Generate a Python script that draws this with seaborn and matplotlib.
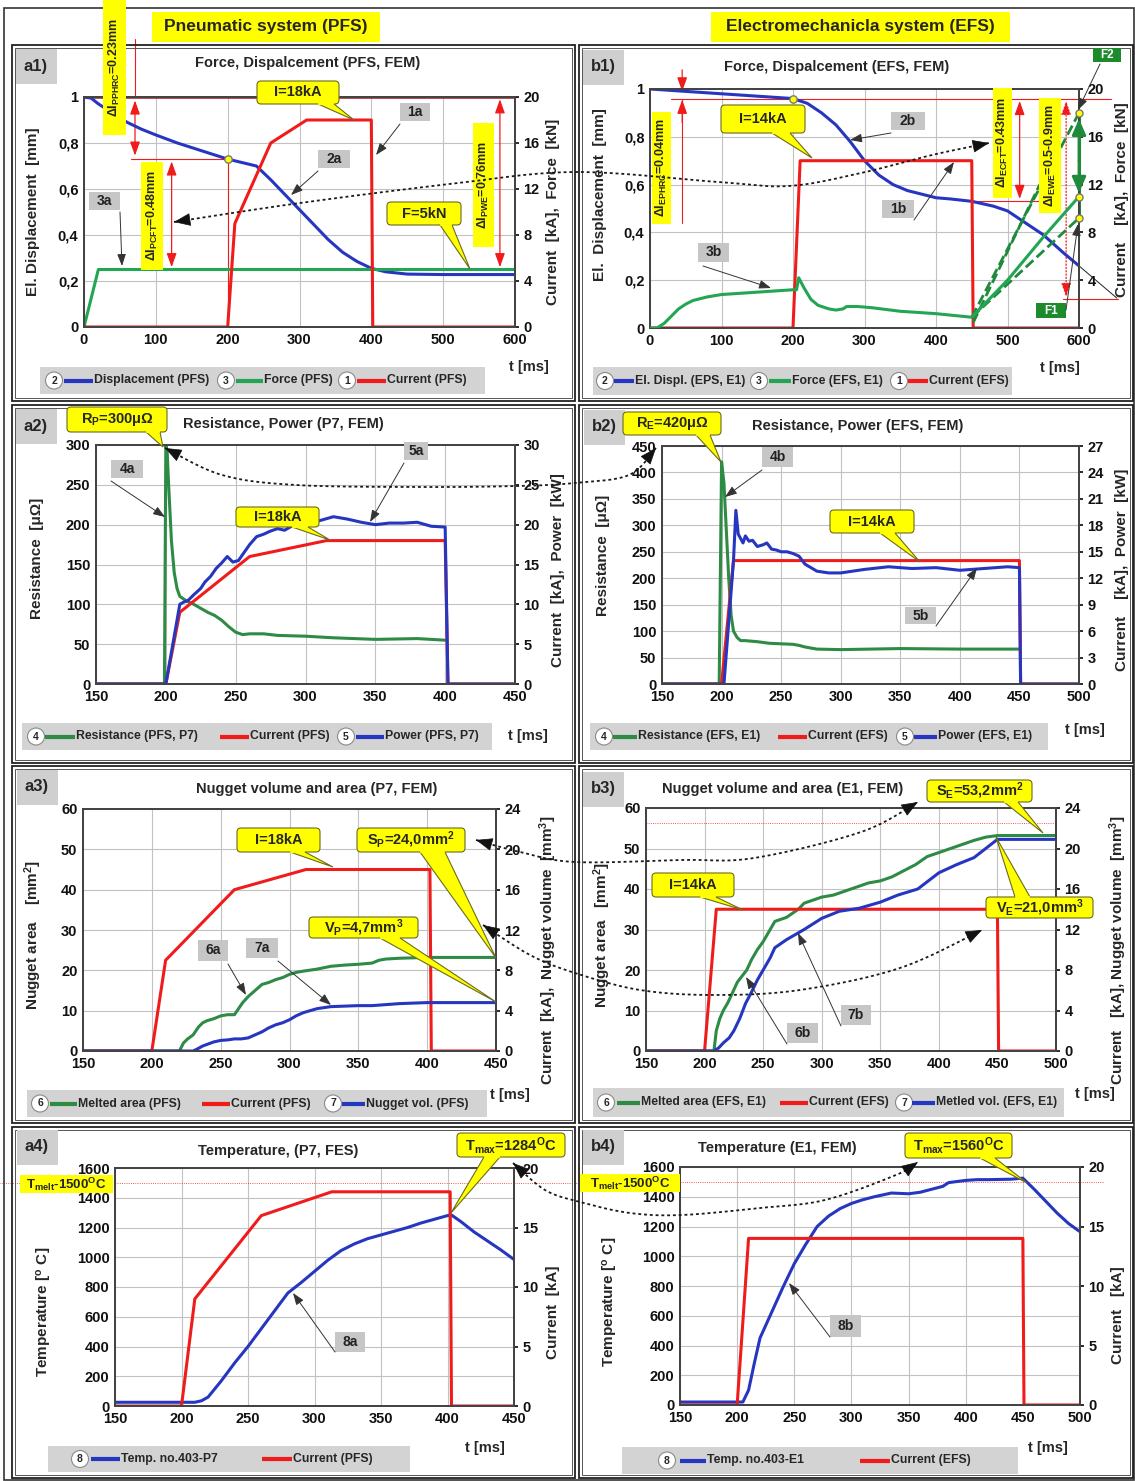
import numpy as np
import matplotlib.pyplot as plt
import matplotlib.patches as mpatches
import seaborn as sns

W, H = 1135, 1481

# ---------------- data ----------------
# a1) PFS force / displacement
a1_disp_t = [0, 10, 20, 40, 60, 80, 100, 130, 160, 200, 220, 240, 260, 280, 300, 320, 340, 360, 380, 400, 420, 450, 500, 550, 600]
a1_disp = [1.0, 0.995, 0.97, 0.93, 0.89, 0.86, 0.835, 0.80, 0.77, 0.73, 0.715, 0.70, 0.64, 0.575, 0.51, 0.445, 0.38, 0.325, 0.285, 0.255, 0.24, 0.23, 0.228, 0.228, 0.228]
a1_force_t = [0, 20, 600]
a1_force = [0, 5, 5]
a1_cur_t = [0, 200, 210, 260, 310, 400, 402, 600]
a1_cur = [0, 0, 9, 16, 18, 18, 0, 0]

# b1) EFS force / displacement
b1_disp_t = [0, 50, 100, 150, 200, 220, 240, 260, 280, 300, 320, 340, 360, 380, 400, 420, 450, 480, 500, 520, 550, 580, 600]
b1_disp = [1.0, 0.99, 0.98, 0.97, 0.96, 0.94, 0.90, 0.85, 0.78, 0.70, 0.64, 0.60, 0.575, 0.56, 0.545, 0.54, 0.53, 0.51, 0.49, 0.45, 0.39, 0.31, 0.26]
b1_force_t = [0, 10, 20, 30, 40, 50, 60, 80, 100, 150, 200, 205, 208, 215, 225, 235, 250, 260, 270, 275, 290, 310, 350, 400, 450, 500, 550, 600]
b1_force = [0, 0, 0.4, 1.0, 1.6, 2.0, 2.3, 2.6, 2.8, 3.0, 3.2, 3.2, 4.2, 3.4, 2.4, 1.9, 1.6, 1.5, 1.6, 1.8, 1.8, 1.7, 1.4, 1.2, 0.9, 4.0, 7.6, 11.0]
b1_cur_t = [0, 200, 210, 450, 452, 600]
b1_cur = [0, 0, 14, 14, 0, 0]
b1_f2 = 18.0   # upper force estimate at 600 ms
b1_fw = 11.0   # force at 600 ms
b1_f1 = 9.2    # lower force estimate at 600 ms
b1_fmid = 12.0

# a2) PFS resistance / power
a2_res_t = [150, 199, 200, 201, 202, 204, 206, 208, 210, 215, 220, 225, 230, 235, 240, 245, 250, 255, 260, 270, 280, 300, 320, 350, 380, 400]
a2_res = [0, 0, 300, 290, 250, 180, 140, 120, 110, 104, 100, 95, 90, 86, 80, 72, 65, 62, 63, 63, 61, 60, 58, 56, 57, 55]
a2_cur_t = [150, 200, 210, 260, 315, 400, 402, 450]
a2_cur = [0, 0, 9, 16, 18, 18, 0, 0]
a2_pow_t = [150, 200, 210, 213, 216, 220, 225, 228, 232, 236, 240, 244, 248, 252, 256, 260, 265, 270, 275, 280, 285, 290, 295, 300, 310, 320, 330, 340, 350, 360, 370, 380, 390, 400, 402, 450]
a2_pow = [0, 0, 10, 10.3, 10.5, 11.2, 12, 12.8, 13.5, 14.5, 15.2, 16, 15.3, 15.5, 16.5, 17.5, 18.5, 18.8, 19.2, 19.5, 19.3, 19.8, 20.3, 20, 20.5, 21, 20.7, 20.3, 20, 20.2, 20.2, 20.3, 19.8, 19.7, 0, 0]

# b2) EFS resistance / power
b2_res_t = [150, 198, 200, 202, 204, 206, 208, 210, 213, 216, 220, 230, 240, 250, 260, 265, 270, 280, 300, 350, 400, 450]
b2_res = [0, 0, 420, 380, 290, 200, 130, 100, 88, 82, 82, 80, 77, 76, 75, 73, 70, 66, 65, 67, 66, 66]
b2_cur_t = [150, 200, 210, 450, 451, 500]
b2_cur = [0, 0, 14, 14, 0, 0]
b2_pow_t = [150, 202, 210, 212, 214, 216, 218, 220, 223, 226, 230, 235, 238, 242, 246, 250, 255, 260, 265, 270, 275, 280, 290, 300, 310, 320, 340, 360, 380, 400, 420, 440, 450, 451, 500]
b2_pow = [0, 0, 14, 19.7, 17, 16.5, 16, 16.8, 16.2, 16.3, 15.6, 15.8, 16, 15.3, 15.2, 15, 15, 14.8, 14.5, 13.6, 13.2, 12.8, 12.6, 12.6, 12.8, 13, 13.3, 13.1, 13.2, 12.9, 13.1, 13.3, 13.2, 0, 0]

# a3) PFS nugget area / volume
a3_area_t = [150, 220, 223, 226, 230, 234, 237, 240, 245, 250, 255, 260, 263, 266, 270, 275, 280, 285, 290, 295, 300, 305, 310, 320, 330, 340, 350, 360, 365, 370, 380, 400, 450]
a3_area = [0, 0, 2, 3, 4, 6, 7, 7.5, 8, 8.7, 9, 9, 10.5, 12, 13.5, 15, 16.5, 17, 17.7, 18.2, 19, 19.5, 19.8, 20.3, 21, 21.3, 21.5, 21.8, 22.5, 22.8, 23, 23.2, 23.2]
a3_cur_t = [150, 200, 210, 260, 312, 402, 403, 450]
a3_cur = [0, 0, 9, 16, 18, 18, 0, 0]
a3_vol_t = [150, 230, 233, 237, 240, 245, 250, 255, 260, 265, 270, 275, 280, 285, 290, 295, 300, 305, 310, 320, 330, 340, 350, 360, 380, 400, 450]
a3_vol = [0, 0, 0.2, 0.5, 0.65, 0.9, 1.05, 1.1, 1.2, 1.2, 1.3, 1.6, 1.9, 2.3, 2.6, 2.8, 3.1, 3.5, 3.8, 4.2, 4.4, 4.45, 4.5, 4.5, 4.7, 4.8, 4.8]

# b3) EFS nugget area / volume
b3_area_t = [150, 208, 210, 213, 216, 220, 224, 228, 232, 236, 240, 245, 250, 255, 260, 270, 280, 285, 290, 300, 310, 320, 330, 340, 350, 360, 370, 380, 390, 400, 410, 420, 430, 440, 450, 500]
b3_area = [0, 0, 5, 8, 10, 12, 14.5, 17, 18.5, 20, 22.5, 25, 27, 29.5, 32, 33, 35, 36.5, 37, 38, 38.5, 39.5, 40.5, 41.5, 42, 43, 44.5, 46, 48, 49, 50, 51, 52, 52.8, 53.2, 53.2]
b3_cur_t = [150, 200, 210, 450, 451, 500]
b3_cur = [0, 0, 14, 14, 0, 0]
b3_vol_t = [150, 208, 212, 216, 221, 225, 230, 235, 240, 245, 251, 256, 260, 270, 285, 300, 315, 332, 350, 365, 382, 400, 415, 430, 440, 450, 500]
b3_vol = [0, 0, 0.3, 0.8, 1.3, 2, 3.2, 4.7, 5.8, 7, 8.2, 9.2, 10.2, 11, 12, 13.1, 13.8, 14.1, 14.7, 15.4, 16, 17.6, 18.4, 19.1, 20, 20.9, 20.9]

# a4) PFS temperature
a4_temp_t = [150, 210, 215, 220, 230, 240, 250, 260, 270, 280, 290, 300, 310, 320, 330, 340, 350, 360, 370, 380, 390, 400, 403, 410, 420, 430, 440, 450]
a4_temp = [25, 25, 35, 60, 170, 290, 400, 520, 640, 760, 830, 905, 980, 1045, 1090, 1125, 1150, 1175, 1200, 1230, 1255, 1280, 1284, 1240, 1170, 1110, 1050, 985]
a4_cur_t = [150, 200, 210, 260, 313, 402, 403, 450]
a4_cur = [0, 0, 9, 16, 18, 18, 0, 0]

# b4) EFS temperature
b4_temp_t = [150, 205, 210, 215, 220, 230, 240, 250, 260, 270, 280, 290, 300, 310, 320, 335, 350, 360, 370, 380, 385, 390, 400, 410, 420, 440, 450, 460, 470, 480, 490, 500]
b4_temp = [20, 20, 100, 280, 450, 620, 790, 950, 1080, 1200, 1270, 1320, 1355, 1380, 1400, 1425, 1420, 1430, 1450, 1470, 1495, 1500, 1510, 1515, 1515, 1518, 1525, 1450, 1370, 1290, 1220, 1165]
b4_cur_t = [150, 200, 210, 450, 451, 500]
b4_cur = [0, 0, 14, 14, 0, 0]

T_MELT = 1500

# ---------------- style ----------------
sns.set_theme(style="whitegrid")
plt.rcParams['font.family'] = ['Liberation Sans Narrow', 'Liberation Sans', 'DejaVu Sans']
plt.rcParams['font.weight'] = 'bold'
plt.rcParams['mathtext.default'] = 'regular'

BLUE = '#2636c0'
GREEN = '#22a654'
DGREEN = '#2e8b45'
RED = '#f01c1c'
YEL = '#ffff00'
TICK_FS = 10.5

fig = plt.figure(figsize=(W / 100, H / 100), dpi=100)
fig.patch.set_facecolor('white')


def make_ax(x0, x1, y0, y1):
    return fig.add_axes([x0 / W, 1 - y1 / H, (x1 - x0) / W, (y1 - y0) / H])


def setup(ax, xlim, xticks, ylim, yticks, ylabels=None):
    ax.set_xlim(xlim)
    ax.set_ylim(ylim)
    ax.set_xticks(xticks)
    ax.set_yticks(yticks)
    if ylabels is not None:
        ax.set_yticklabels(ylabels)
    ax.set_facecolor('white')
    ax.grid(True, color='#c2c2c2', lw=0.8)
    for s in ax.spines.values():
        s.set_color('#444444')
        s.set_linewidth(1.4)
    ax.tick_params(labelsize=TICK_FS, length=0, pad=4, colors='#111111')
    ax.set_xlabel('')
    ax.set_ylabel('')


def twin(ax, ylim, yticks):
    tw = ax.twinx()
    tw.set_ylim(ylim)
    tw.set_yticks(yticks)
    tw.grid(False)
    tw.tick_params(labelsize=TICK_FS, length=3, pad=3, colors='#111111')
    for s in tw.spines.values():
        s.set_color('#444444')
        s.set_linewidth(1.4)
    return tw


def line(ax, t, y, color, lw=2.2, **kw):
    sns.lineplot(x=t, y=y, ax=ax, color=color, lw=lw, estimator=None, sort=False, legend=False, **kw)
    ax.set_xlabel('')
    ax.set_ylabel('')


def red_arrow(ax, t, y0, y1, style='<|-|>', ls='-'):
    ax.annotate('', xy=(t, y1), xytext=(t, y0), annotation_clip=False,
                arrowprops=dict(arrowstyle=style + ',head_length=0.7,head_width=0.25', color=RED,
                                lw=0.9, ls=ls, shrinkA=0, shrinkB=0))


# ---------------- a1 ----------------
ax = make_ax(84, 515, 97, 327)
setup(ax, (0, 600), range(0, 601, 100), (0, 1), [0, 0.2, 0.4, 0.6, 0.8, 1.0], ['0', '0,2', '0,4', '0,6', '0,8', '1'])
tw = twin(ax, (0, 20), range(0, 21, 4))
ax.plot([0, 600], [1, 1], color='#b01515', lw=1.8, clip_on=False, zorder=3)
ax.plot([65, 200], [0.73, 0.73], color=RED, lw=0.8)
ax.plot([200, 200], [0, 0.73], color=RED, lw=0.8)
ax.plot([71, 71], [1.0, 1.25], color=RED, lw=0.8, clip_on=False)
red_arrow(ax, 71, 0.745, 0.985)
red_arrow(ax, 122, 0.26, 0.72)
red_arrow(ax, 579, 0.26, 0.99)
line(ax, a1_disp_t, a1_disp, BLUE, zorder=4)
line(tw, a1_force_t, a1_force, GREEN)
line(tw, a1_cur_t, a1_cur, RED)
ax.scatter([200], [a1_disp[a1_disp_t.index(200)]], s=28, color=YEL, edgecolor='#777', zorder=6)

# ---------------- b1 ----------------
ax = make_ax(650, 1079, 89, 328)
setup(ax, (0, 600), range(0, 601, 100), (0, 1), [0, 0.2, 0.4, 0.6, 0.8, 1.0], ['0', '0,2', '0,4', '0,6', '0,8', '1'])
tw = twin(ax, (0, 20), range(0, 21, 4))
ax.plot([30, 645], [0.96, 0.96], color=RED, lw=0.8, clip_on=False)
ax.plot([45, 45], [0.44, 0.96], color=RED, lw=0.8)
red_arrow(ax, 45, 1.08, 0.99, style='-|>')
red_arrow(ax, 45, 0.86, 0.955, style='-|>')
ax.plot([455, 545], [0.53, 0.53], color=RED, lw=0.8)
red_arrow(ax, 517, 0.54, 0.95)
ax.plot([578, 655], [0.12, 0.12], color=RED, lw=0.8, clip_on=False)
red_arrow(ax, 582, 0.13, 0.95, ls=':')
ax.plot([600, 653], [0.26, 0.125], color='#222', lw=0.7, clip_on=False)
line(ax, b1_disp_t, b1_disp, BLUE, zorder=4)
line(tw, b1_cur_t, b1_cur, RED)
line(tw, b1_force_t, b1_force, GREEN, zorder=4)
line(tw, [450, 600], [b1_force[-4], b1_f2], '#1f8a3c', lw=2, ls='--')
line(tw, [452, 545], [b1_force[-4] * 0.5, b1_fmid], '#1f8a3c', lw=2, ls='--')
line(tw, [450, 600], [b1_force[-4], b1_f1], '#1f8a3c', lw=2, ls='--')
tw.plot([600, 600], [b1_f1, b1_f2], color='#1f8a3c', lw=2.2, clip_on=False)
tw.annotate('', xy=(600, b1_f2 - 0.5), xytext=(600, 14), annotation_clip=False,
            arrowprops=dict(arrowstyle='-|>,head_length=0.8,head_width=0.35', color='#1f8a3c', lw=2, shrinkA=0, shrinkB=0))
tw.annotate('', xy=(600, b1_fw + 0.3), xytext=(600, 14), annotation_clip=False,
            arrowprops=dict(arrowstyle='-|>,head_length=0.8,head_width=0.35', color='#1f8a3c', lw=2, shrinkA=0, shrinkB=0))
tw.scatter([600, 600, 600], [b1_f2, b1_fw, b1_f1], s=26, color=YEL, edgecolor='#777', zorder=6, clip_on=False)
ax.scatter([200], [b1_disp[b1_disp_t.index(200)]], s=28, color=YEL, edgecolor='#777', zorder=6)

# ---------------- a2 ----------------
ax = make_ax(96, 515, 445, 684)
setup(ax, (150, 450), range(150, 451, 50), (0, 300), range(0, 301, 50))
tw = twin(ax, (0, 30), range(0, 31, 5))
line(ax, a2_res_t, a2_res, DGREEN)
line(tw, a2_cur_t, a2_cur, RED)
line(tw, a2_pow_t, a2_pow, BLUE)

# ---------------- b2 ----------------
ax = make_ax(662, 1079, 446, 684)
setup(ax, (150, 500), range(150, 501, 50), (0, 450), range(0, 451, 50))
tw = twin(ax, (0, 27), range(0, 28, 3))
line(ax, b2_res_t, b2_res, DGREEN)
line(tw, b2_cur_t, b2_cur, RED)
line(tw, b2_pow_t, b2_pow, BLUE)

# ---------------- a3 ----------------
ax = make_ax(83, 496, 809, 1051)
setup(ax, (150, 450), range(150, 451, 50), (0, 60), range(0, 61, 10))
tw = twin(ax, (0, 24), range(0, 25, 4))
line(tw, a3_cur_t, a3_cur, RED)
line(ax, a3_area_t, a3_area, DGREEN)
line(tw, a3_vol_t, a3_vol, BLUE)

# ---------------- b3 ----------------
ax = make_ax(646, 1056, 808, 1051)
setup(ax, (150, 500), range(150, 501, 50), (0, 60), range(0, 61, 10))
tw = twin(ax, (0, 24), range(0, 25, 4))
ax.axhline(56.3, color=RED, lw=0.6, ls=':')
line(tw, b3_cur_t, b3_cur, RED)
line(ax, b3_area_t, b3_area, DGREEN)
line(tw, b3_vol_t, b3_vol, BLUE)

# ---------------- a4 ----------------
ax = make_ax(115, 514, 1168, 1406)
setup(ax, (150, 450), range(150, 451, 50), (0, 1600), range(0, 1601, 200))
tw = twin(ax, (0, 20), range(0, 21, 5))
ax.plot([150, 450], [T_MELT, T_MELT], color=RED, lw=0.6, ls=':')
ax.plot([450, 510], [T_MELT, T_MELT], color=RED, lw=0.6, ls=':', clip_on=False)
ax.plot([30, 150], [T_MELT, T_MELT], color=RED, lw=0.6, ls=':', clip_on=False)
line(tw, a4_cur_t, a4_cur, RED)
line(ax, a4_temp_t, a4_temp, BLUE)

# ---------------- b4 ----------------
ax = make_ax(680, 1080, 1167, 1405)
setup(ax, (150, 500), range(150, 501, 50), (0, 1600), range(0, 1601, 200))
tw = twin(ax, (0, 20), range(0, 21, 5))
ax.plot([150, 500], [T_MELT, T_MELT], color=RED, lw=0.6, ls=':')
ax.plot([500, 520], [T_MELT, T_MELT], color=RED, lw=0.6, ls=':', clip_on=False)
line(tw, b4_cur_t, b4_cur, RED)
line(ax, b4_temp_t, b4_temp, BLUE)

# ---------------- overlay (pixel coordinates) ----------------
ov = fig.add_axes([0, 0, 1, 1], zorder=10)
ov.set_xlim(0, W)
ov.set_ylim(H, 0)
ov.axis('off')


def rect(x0, y0, x1, y1, fc='none', ec='none', lw=1.0, z=1):
    ov.add_patch(mpatches.Rectangle((x0, y0), x1 - x0, y1 - y0, fc=fc, ec=ec, lw=lw, zorder=z))


def badge(cx, cy, num):
    ov.add_patch(mpatches.Circle((cx, cy), 8.5, fc='white', ec='#8a8a8a', lw=0.8, zorder=3))
    ov.text(cx, cy, num, ha='center', va='center', fontsize=7.5, zorder=4)


def legend_box(x0, x1, y0, y1, items):
    rect(x0, y0, x1, y1, fc='#d3d3d3')
    yc = (y0 + y1) / 2
    for num, cx, lx0, lx1, col, lab in items:
        if num:
            badge(cx, yc, num)
        ov.plot([lx0, lx1], [yc, yc], color=col, lw=3, solid_capstyle='butt', zorder=3)
        ov.text(lx1 + 1, yc, lab, ha='left', va='center', fontsize=8.8, zorder=4)


def callout(x0, y0, x1, y1, text, tip, b0, b1, fs=10.5):
    yb = y1 if tip[1] > y1 else y0
    ov.add_patch(mpatches.Polygon([(b0, yb), (b1, yb), tip], closed=True, fc=YEL, ec='#6b6b20', lw=0.8, zorder=5))
    ov.add_patch(mpatches.FancyBboxPatch((x0, y0), x1 - x0, y1 - y0, boxstyle='round,pad=0,rounding_size=4',
                                         fc=YEL, ec='#6b6b20', lw=0.8, zorder=6))
    ov.plot([b0 + 1, b1 - 1], [yb, yb], color=YEL, lw=1.6, zorder=7)
    ov.text((x0 + x1) / 2, (y0 + y1) / 2, text, ha='center', va='center', fontsize=fs, zorder=8)


def vlabel(x0, y0, x1, y1, text):
    rect(x0, y0, x1, y1, fc=YEL, z=5)
    ov.text((x0 + x1) / 2, (y0 + y1) / 2, text, ha='center', va='center', rotation=90, fontsize=9, zorder=6)


def tag(x0, y0, x1, y1, text, start, end, fc='#c6c6c6', tc='#222222', fs=10):
    rect(x0, y0, x1, y1, fc=fc, z=5)
    ov.text((x0 + x1) / 2, (y0 + y1) / 2, text, ha='center', va='center', fontsize=fs, color=tc, zorder=6)
    ov.annotate('', xy=end, xytext=start,
                arrowprops=dict(arrowstyle='-|>,head_length=0.6,head_width=0.22', color='#333333', lw=0.7,
                                shrinkA=0, shrinkB=0), zorder=6)


def smooth(pts, n=20):
    P = np.array(pts, float)
    P = np.vstack([P[0], P, P[-1]])
    out = []
    for i in range(1, len(P) - 2):
        p0, p1, p2, p3 = P[i - 1], P[i], P[i + 1], P[i + 2]
        for s in np.linspace(0, 1, n, endpoint=False):
            out.append(0.5 * (2 * p1 + (-p0 + p2) * s + (2 * p0 - 5 * p1 + 4 * p2 - p3) * s ** 2
                              + (-p0 + 3 * p1 - 3 * p2 + p3) * s ** 3))
    out.append(P[-2])
    return np.array(out)


def dotted(pts, heads=(True, True)):
    c = smooth(pts)
    ov.plot(c[:, 0], c[:, 1], color='#1a1a1a', lw=1.3, ls=(0, (1.6, 1.6)), zorder=9)
    ap = dict(arrowstyle='-|>,head_length=0.9,head_width=0.35', color='#111111', lw=0.5, shrinkA=0, shrinkB=0)
    if heads[0]:
        ov.annotate('', xy=tuple(c[0]), xytext=tuple(c[3]), arrowprops=ap, zorder=9)
    if heads[1]:
        ov.annotate('', xy=tuple(c[-1]), xytext=tuple(c[-4]), arrowprops=ap, zorder=9)


# outer frame and panel frames
rect(4, 8, 1134, 1480, ec='#333333', lw=1.2)
for (x0, x1) in [(12, 575), (579, 1133)]:
    for (y0, y1) in [(45, 401), (405, 763), (766, 1123), (1127, 1478)]:
        rect(x0, y0, x1, y1, ec='#222222', lw=1.3)
        rect(x0 + 3, y0 + 3, x1 - 3, y1 - 3, ec='#555555', lw=0.7)

# headers
rect(152, 12, 380, 42, fc=YEL, z=5)
ov.text(266, 27, 'Pneumatic system (PFS)', ha='center', va='center', fontsize=12.5, zorder=6)
rect(711, 12, 1010, 42, fc=YEL, z=5)
ov.text(860, 27, 'Electromechanicla system (EFS)', ha='center', va='center', fontsize=12.5, zorder=6)

# panel tags and titles
for lab, x0, y0 in [('a1)', 16, 49), ('b1)', 583, 50), ('a2)', 16, 409), ('b2)', 584, 410),
                    ('a3)', 17, 770), ('b3)', 583, 772), ('a4)', 17, 1130), ('b4)', 583, 1130)]:
    rect(x0, y0, x0 + 41, y0 + 35, fc='#cfcfcf', z=2)
    ov.text(x0 + 20, y0 + 17, lab, ha='center', va='center', fontsize=12, zorder=3)

for txt, x, y in [('Force, Dispalcement (PFS, FEM)', 308, 63), ('Force, Dispalcement (EFS, FEM)', 837, 67),
                  ('Resistance, Power (P7, FEM)', 283, 424), ('Resistance, Power (EFS, FEM)', 858, 426),
                  ('Nugget volume and area (P7, FEM)', 317, 789), ('Nugget volume and area (E1, FEM)', 783, 789),
                  ('Temperature, (P7, FES)', 278, 1151), ('Temperature (E1, FEM)', 777, 1148)]:
    ov.text(x, y, txt, ha='center', va='center', fontsize=10.5, zorder=3)

# axis labels
for txt, x, y in [('El. Displacement  [mm]', 33, 212), ('Current  [kA],  Force  [kN]', 553, 212),
                  ('El.  Displacement  [mm]', 600, 195), ('Current    [kA],  Force  [kN]', 1122, 200),
                  ('Resistance  [μΩ]', 37, 558), ('Current  [kA],  Power  [kW]', 558, 570),
                  ('Resistance  [μΩ]', 603, 555), ('Current    [kA],  Power  [kW]', 1122, 570),
                  ('Nugget area    [mm$^2$]', 33, 935), ('Current  [kA],  Nugget volume  [mm$^3$]', 548, 950),
                  ('Nugget area   [mm$^2$]', 602, 935), ('Current   [kA], Nugget volume  [mm$^3$]', 1118, 950),
                  ('Temperature [$^o$ C]', 45, 1312), ('Current  [kA]', 553, 1312),
                  ('Temperature [$^o$ C]', 610, 1302), ('Current   [kA]', 1118, 1315)]:
    ov.text(x, y, txt, ha='center', va='center', rotation=90, fontsize=11, zorder=3)

for x, y in [(529, 367), (1060, 368), (528, 736), (1085, 730), (510, 1095), (1095, 1094), (485, 1448), (1048, 1448)]:
    ov.text(x, y, 't [ms]', ha='center', va='center', fontsize=10.5, zorder=3)

# legends
legend_box(40, 485, 367, 394, [('2', 54, 64, 93, BLUE, 'Displacement (PFS)'),
                               ('3', 226, 236, 263, GREEN, 'Force (PFS)'),
                               ('1', 347, 357, 386, RED, 'Current (PFS)')])
legend_box(593, 1012, 367, 395, [('2', 605, 614, 634, BLUE, 'El. Displ. (EPS, E1)'),
                                 ('3', 759, 769, 791, GREEN, 'Force (EFS, E1)'),
                                 ('1', 899, 908, 928, RED, 'Current (EFS)')])
legend_box(22, 492, 723, 750, [('4', 36, 45, 75, DGREEN, 'Resistance (PFS, P7)'),
                               (None, 0, 220, 249, RED, 'Current (PFS)'),
                               ('5', 346, 356, 384, BLUE, 'Power (PFS, P7)')])
legend_box(590, 1048, 723, 750, [('4', 604, 613, 637, DGREEN, 'Resistance (EFS, E1)'),
                                 (None, 0, 778, 807, RED, 'Current (EFS)'),
                                 ('5', 905, 914, 937, BLUE, 'Power (EFS, E1)')])
legend_box(27, 487, 1090, 1117, [('6', 40, 50, 77, DGREEN, 'Melted area (PFS)'),
                                 (None, 0, 202, 230, RED, 'Current (PFS)'),
                                 ('7', 333, 342, 365, BLUE, 'Nugget vol. (PFS)')])
legend_box(593, 1064, 1088, 1117, [('6', 606, 617, 640, DGREEN, 'Melted area (EFS, E1)'),
                                   (None, 0, 780, 808, RED, 'Current (EFS)'),
                                   ('7', 904, 912, 935, BLUE, 'Metled vol. (EFS, E1)')])
legend_box(48, 410, 1446, 1472, [('8', 80, 91, 120, BLUE, 'Temp. no.403-P7'),
                                 (None, 0, 262, 292, RED, 'Current (PFS)')])
legend_box(622, 1018, 1447, 1474, [('8', 667, 680, 706, BLUE, 'Temp. no.403-E1'),
                                   (None, 0, 860, 890, RED, 'Current (EFS)')])

# yellow vertical dimension labels
vlabel(103, 0, 126, 135, 'ΔI$_{PPHRC}$=0.23mm')
vlabel(141, 162, 163, 270, 'ΔI$_{PCFT}$=0.48mm')
vlabel(473, 123, 494, 247, 'ΔI$_{PWE}$=0.76mm')
vlabel(652, 112, 671, 224, 'ΔI$_{EPHRC}$=0.04mm')
vlabel(993, 88, 1012, 198, 'ΔI$_{ECFT}$=0.43mm')
vlabel(1039, 98, 1061, 213, 'ΔI$_{EWE}$=0.5-0.9mm')

# callouts
callout(257, 81, 339, 104, 'I=18kA', (354, 120), 318, 334)
callout(387, 202, 461, 225, 'F=5kN', (470, 269), 440, 452)
callout(721, 105, 805, 133, 'I=14kA', (812, 158), 772, 790)
callout(67, 407, 167, 432, 'R$_P$=300μΩ', (163, 447), 146, 160)
callout(236, 507, 319, 527, 'I=18kA', (330, 540), 292, 308)
callout(623, 412, 721, 435, 'R$_E$=420μΩ', (721, 462), 696, 710)
callout(830, 510, 914, 533, 'I=14kA', (920, 562), 880, 895)
callout(237, 828, 320, 852, 'I=18kA', (333, 867), 290, 305)
callout(357, 828, 465, 852, 'S$_P$=24,0mm$^2$', (496, 958), 420, 445)
callout(309, 917, 418, 938, 'V$_P$=4,7mm$^3$', (496, 1002), 380, 400)
callout(652, 873, 734, 897, 'I=14kA', (743, 910), 700, 716)
callout(927, 780, 1032, 802, 'S$_E$=53,2mm$^2$', (1043, 833), 1004, 1018)
callout(986, 897, 1093, 918, 'V$_E$=21,0mm$^3$', (996, 837), 1015, 1030)
callout(457, 1133, 565, 1157, 'T$_{max}$=1284$^O$C', (451, 1213), 484, 500)
callout(905, 1133, 1012, 1158, 'T$_{max}$=1560$^O$C', (1027, 1183), 980, 995)
rect(20, 1175, 113, 1193, fc=YEL, z=5)
ov.text(66, 1184, 'T$_{melt}$-1500$^O$C', ha='center', va='center', fontsize=9.5, zorder=6)
rect(580, 1174, 680, 1192, fc=YEL, z=5)
ov.text(630, 1183, 'T$_{melt}$-1500$^O$C', ha='center', va='center', fontsize=9.5, zorder=6)

# grey curve tags
tag(400, 103, 430, 121, '1a', (400, 124), (376, 155))
tag(318, 150, 350, 168, '2a', (318, 171), (291, 195))
tag(89, 192, 120, 210, '3a', (120, 212), (122, 266))
tag(891, 112, 925, 130, '2b', (891, 133), (850, 140))
tag(882, 200, 914, 218, '1b', (914, 220), (954, 162))
tag(698, 243, 729, 262, '3b', (703, 266), (771, 288))
tag(1093, 48, 1121, 62, 'F2', (1100, 64), (1078, 110), fc='#1d8a2c', tc='white', fs=8.5)
tag(1036, 303, 1066, 318, 'F1', (1066, 310), (1078, 224), fc='#1d8a2c', tc='white', fs=8.5)
tag(111, 460, 143, 478, '4a', (111, 481), (165, 517))
tag(404, 442, 428, 460, '5a', (404, 463), (370, 522))
tag(762, 447, 793, 467, '4b', (762, 470), (725, 497))
tag(905, 607, 936, 624, '5b', (936, 626), (977, 568))
tag(198, 940, 228, 961, '6a', (228, 964), (246, 995))
tag(246, 938, 278, 958, '7a', (278, 961), (331, 1005))
tag(787, 1023, 818, 1043, '6b', (787, 1044), (746, 977))
tag(841, 1005, 871, 1025, '7b', (841, 1026), (798, 933))
tag(335, 1332, 365, 1352, '8a', (335, 1352), (293, 1293))
tag(830, 1315, 861, 1337, '8b', (830, 1337), (789, 1283))

# dotted connectors between PFS and EFS panels
dotted([(174, 222), (300, 203), (450, 184), (575, 172), (718, 182), (789, 186), (861, 173), (932, 155), (989, 143)])
dotted([(165, 448), (222, 475), (296, 485), (420, 487), (518, 486), (575, 483), (629, 475), (656, 448)])
dotted([(476, 840), (520, 852), (575, 862), (682, 860), (754, 858), (861, 832), (918, 802)])
dotted([(483, 925), (530, 955), (575, 973), (640, 990), (714, 995), (800, 990), (900, 968), (982, 930)])
dotted([(513, 1163), (545, 1190), (580, 1202), (630, 1213), (682, 1215), (760, 1208), (825, 1200), (896, 1175), (918, 1162)])

fig.savefig('out.png', dpi=100)
